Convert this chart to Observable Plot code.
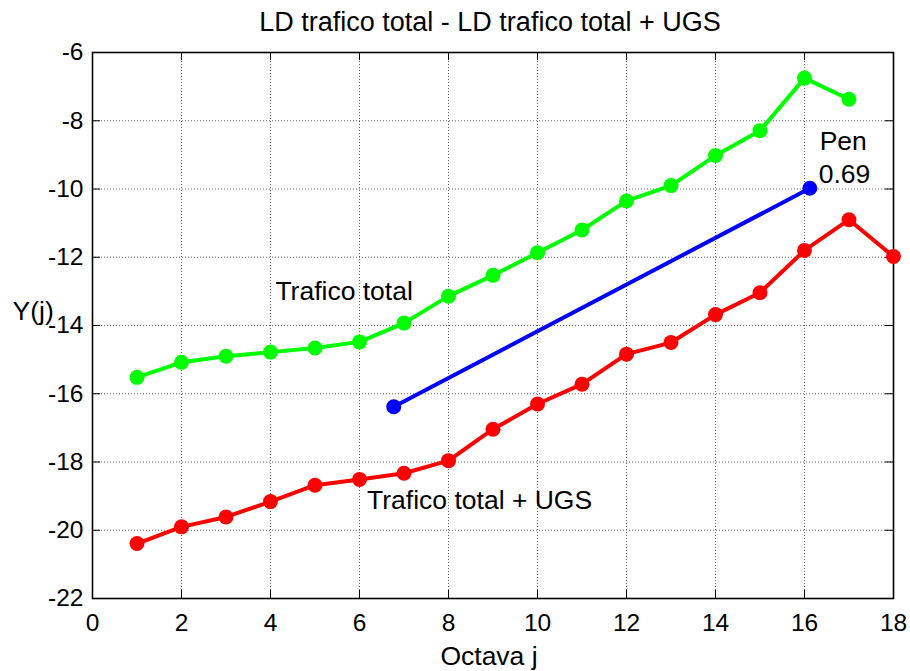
<!DOCTYPE html>
<html>
<head>
<meta charset="utf-8">
<script src="https://cdn.jsdelivr.net/npm/d3@7"></script>
<script src="https://cdn.jsdelivr.net/npm/@observablehq/plot@0.6"></script>
<style>
  html, body { margin: 0; padding: 0; background: #fff; }
  #chart svg { display: block; }
</style>
</head>
<body>
<div id="chart"></div>
<script>
const octavesGreen = [1,2,3,4,5,6,7,8,9,10,11,12,13,14,15,16,17];
const traficoTotal = [-15.52,-15.08,-14.90,-14.78,-14.66,-14.48,-13.93,-13.14,-12.53,-11.87,-11.20,-10.35,-9.90,-9.02,-8.29,-6.75,-7.37];
const octavesRed = [1,2,3,4,5,6,7,8,9,10,11,12,13,14,15,16,17,18];
const traficoUGS = [-20.39,-19.90,-19.61,-19.16,-18.68,-18.51,-18.33,-17.96,-17.04,-16.30,-15.72,-14.84,-14.50,-13.68,-13.04,-11.80,-10.90,-11.98];
const fitX = [6.77, 16.12];
const fitY = [-16.38, -9.98];
const xTicks = [0,2,4,6,8,10,12,14,16,18];
const yTicks = [-22,-20,-18,-16,-14,-12,-10,-8,-6];
const labels = ["Trafico total", "Trafico total + UGS", "Pen", "0.69"];
const labelX = [4.11, 6.17, 16.34, 16.32];
const labelY = [-13.01, -19.14, -8.62, -9.58];

const green = octavesGreen.map((x, i) => ({x, y: traficoTotal[i]}));
const red = octavesRed.map((x, i) => ({x, y: traficoUGS[i]}));
const blue = fitX.map((x, i) => ({x, y: fitY[i]}));
const texts = labels.map((t, i) => ({t, x: labelX[i], y: labelY[i]}));

const W = 910, H = 671, mL = 92, mR = 17, mT = 52, mB = 73;
const fw = W - mL - mR, fh = H - mT - mB;
const font = "'Liberation Sans', Arial, Helvetica, sans-serif";
const grid = {stroke: "#000", strokeOpacity: 0.6, strokeWidth: 1, strokeDasharray: "1,2"};

const chart = Plot.plot({
  width: W, height: H,
  marginLeft: mL, marginRight: mR, marginTop: mT, marginBottom: mB,
  style: {fontFamily: font, background: "#fff", color: "#000"},
  x: {domain: [0, 18], ticks: xTicks},
  y: {domain: [-22, -6], ticks: yTicks},
  marks: [
    Plot.gridX(xTicks, {...grid}),
    Plot.gridY(yTicks, {...grid}),
    Plot.tickY(yTicks, {y: d => d, insetRight: fw - 8, stroke: "#000", strokeWidth: 1}),
    Plot.tickY(yTicks, {y: d => d, insetLeft: fw - 8, stroke: "#000", strokeWidth: 1}),
    Plot.tickX(xTicks, {x: d => d, insetTop: fh - 8, stroke: "#000", strokeWidth: 1}),
    Plot.tickX(xTicks, {x: d => d, insetBottom: fh - 8, stroke: "#000", strokeWidth: 1}),
    Plot.axisX(xTicks, {tickSize: 0, tickPadding: 15, fontSize: 24.5, label: null, tickFormat: d => String(d)}),
    Plot.axisY(yTicks, {tickSize: 0, tickPadding: 9, fontSize: 24.5, label: null, tickFormat: d => String(d)}),
    Plot.frame({stroke: "#000", strokeWidth: 1.6}),
    Plot.line(green, {x: "x", y: "y", stroke: "#00ff00", strokeWidth: 4}),
    Plot.dot(green, {x: "x", y: "y", fill: "#00ff00", r: 7.5}),
    Plot.line(red, {x: "x", y: "y", stroke: "#ff0000", strokeWidth: 4}),
    Plot.dot(red, {x: "x", y: "y", fill: "#ff0000", r: 7.5}),
    Plot.line(blue, {x: "x", y: "y", stroke: "#0000ff", strokeWidth: 4}),
    Plot.dot(blue, {x: "x", y: "y", fill: "#0000ff", r: 7.5}),
    Plot.text(texts, {x: "x", y: "y", text: "t", textAnchor: "start", lineAnchor: "middle", fontSize: 26.5, fill: "#000"}),
    Plot.text(["LD trafico total - LD trafico total + UGS"], {frameAnchor: "top", lineAnchor: "middle", dy: -30, dx: -3, fontSize: 27, fill: "#000"}),
    Plot.text(["Octava j"], {frameAnchor: "bottom", lineAnchor: "middle", dy: 58, dx: -4, fontSize: 26.5, fill: "#000"}),
    Plot.text(["Y(j)"], {frameAnchor: "left", lineAnchor: "middle", dx: -80, dy: -14, textAnchor: "start", fontSize: 26.5, fill: "#000"})
  ]
});
document.getElementById("chart").appendChild(chart);
</script>
</body>
</html>
